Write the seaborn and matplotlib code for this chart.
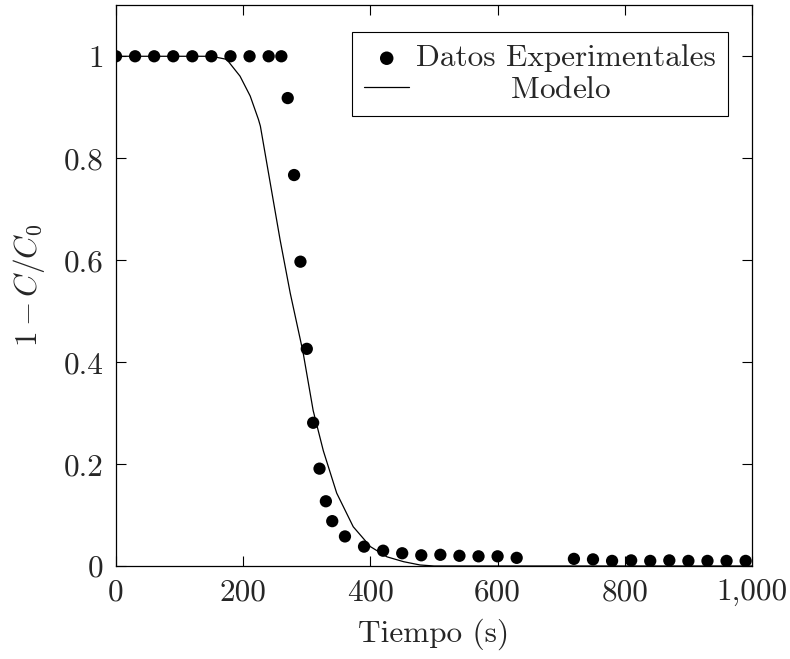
import numpy as np
import pandas as pd
import matplotlib
matplotlib.use("Agg")
import matplotlib.pyplot as plt
from matplotlib.ticker import FuncFormatter, FixedLocator
import seaborn as sns

# ---- data ----
t_exp = [0, 30, 60, 90, 120, 150, 180, 210, 240, 260, 270, 280, 290, 300, 310,
         320, 330, 340, 360, 390, 420, 450, 480, 510, 540, 570, 600, 630,
         720, 750, 780, 810, 840, 870, 900, 930, 960, 990]
y_exp = [1, 1, 1, 1, 1, 1, 1, 1, 1, 1, 0.918, 0.767, 0.597, 0.426, 0.281,
         0.191, 0.127, 0.088, 0.058, 0.038, 0.030, 0.025, 0.021, 0.022, 0.020,
         0.019, 0.019, 0.016, 0.014, 0.013, 0.010, 0.011, 0.010, 0.011, 0.010,
         0.010, 0.010, 0.010]

t_mod = [0, 150, 174, 195, 211, 224, 227, 242, 258, 274, 294, 310, 326, 347,
         373, 400, 426, 452, 478, 500, 1000]
y_mod = [1, 1, 0.994, 0.961, 0.922, 0.876, 0.863, 0.755, 0.640, 0.535, 0.420,
         0.305, 0.226, 0.143, 0.077, 0.038, 0.018, 0.0085, 0.002, 0, 0]

x_ticks = [0, 200, 400, 600, 800, 1000]
y_ticks = [0, 0.2, 0.4, 0.6, 0.8, 1.0]

label_exp = "Datos Experimentales"
label_mod = "Modelo"
x_label = "Tiempo (s)"
y_label = r"$1 - C/C_0$"

# ---- style ----
sns.set_theme(style="ticks")
plt.rcParams["font.family"] = "serif"
plt.rcParams["font.serif"] = ["cmr10"]
plt.rcParams["mathtext.fontset"] = "cm"
plt.rcParams["axes.formatter.use_mathtext"] = True
plt.rcParams["axes.unicode_minus"] = False

FS = 22.5

fig = plt.figure(figsize=(7.9, 6.59), dpi=100)
ax = fig.add_axes([116 / 790, 1 - 566 / 659, (752 - 116) / 790, (566 - 5.3) / 659])

df_exp = pd.DataFrame({"t": t_exp, "y": y_exp})
df_mod = pd.DataFrame({"t": t_mod, "y": y_mod})

sns.scatterplot(data=df_exp, x="t", y="y", ax=ax, color="black", s=78,
                edgecolor="none", label=label_exp, zorder=3)
sns.lineplot(data=df_mod, x="t", y="y", ax=ax, color="black", linewidth=0.9,
             label=r"$\qquad\quad\;\,$" + label_mod, zorder=2, sort=False)

ax.set_xlim(0, 1000)
ax.set_ylim(0, 1.1)
ax.xaxis.set_major_locator(FixedLocator(x_ticks))
ax.yaxis.set_major_locator(FixedLocator(y_ticks))
ax.xaxis.set_major_formatter(FuncFormatter(lambda v, p: "{:,.0f}".format(v)))
ax.yaxis.set_major_formatter(FuncFormatter(lambda v, p: "{:g}".format(v)))

ax.tick_params(axis="both", which="major", direction="in", length=7, width=0.8,
               labelsize=FS, top=True, right=True, color="black", pad=9)
for sp in ax.spines.values():
    sp.set_visible(True)
    sp.set_color("black")
    sp.set_linewidth(0.9)

ax.set_xlabel(x_label, fontsize=FS, labelpad=9)
ax.set_ylabel(y_label, fontsize=FS, labelpad=12)

leg = ax.legend(loc="upper right", bbox_to_anchor=((728 - 116) / 636, (566 - 32) / 560.7),
                borderaxespad=0, fontsize=FS, frameon=True, fancybox=False,
                framealpha=1, edgecolor="black", handlelength=1.45,
                handletextpad=0.2, borderpad=0.4, labelspacing=0.1,
                markerscale=1.1)
leg.get_frame().set_linewidth(0.8)

fig.savefig("out.png", dpi=100, facecolor="white")
